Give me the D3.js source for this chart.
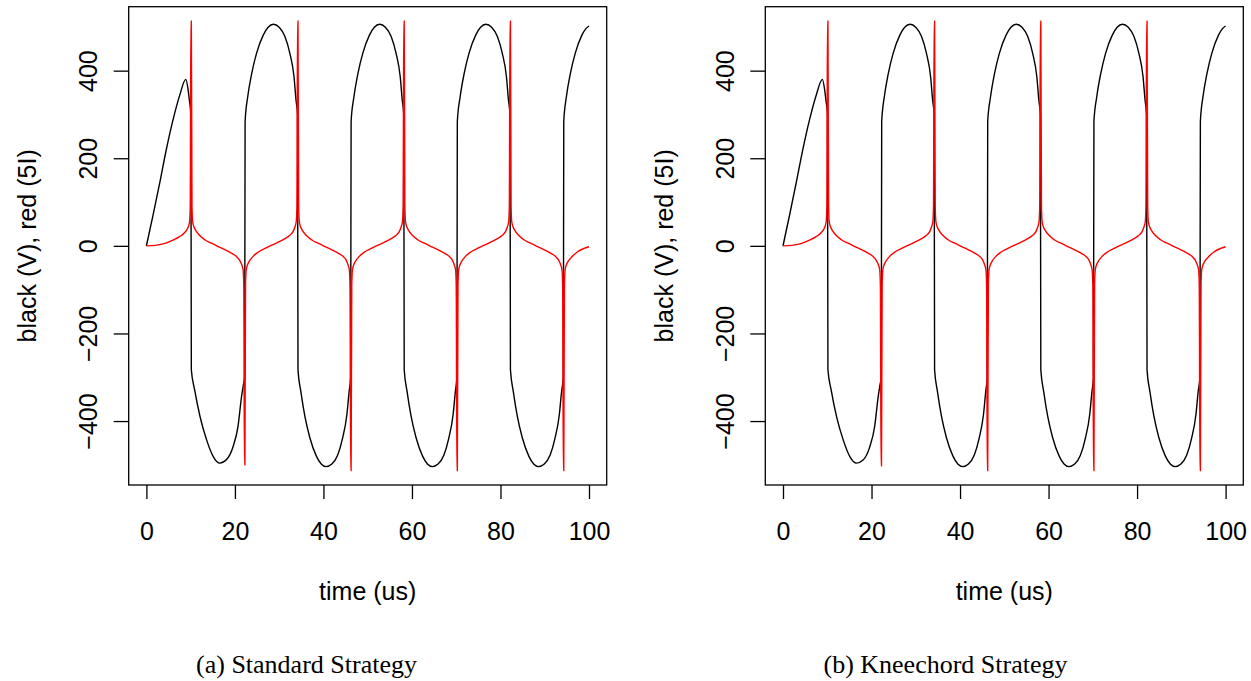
<!DOCTYPE html>
<html>
<head>
<meta charset="utf-8">
<script src="https://cdn.jsdelivr.net/npm/d3@7"></script>
<style>
  body { margin: 0; background: #fff; }
  svg { display: block; }
  .axis text, .lab { font-family: "Liberation Sans", Arial, Helvetica, sans-serif; font-size: 25px; fill: #000; }
  .cap { font-family: "Liberation Serif", "Times New Roman", serif; font-size: 26px; fill: #000; }
</style>
</head>
<body>
<svg id="chart" width="1251" height="681"></svg>
<script>
// time samples (us) for the voltage trace (black)
const timeV = [
  0, 1.5, 3, 4.5, 6, 7.5, 8.9, 9.4, 9.7, 10.05, 10.15,
  10.9, 12.1, 13.6, 15.1, 16.6, 18.1, 19.6, 20.7, 21.5, 21.9, 22.2, 22.3,
  22.9, 23.8, 24.9, 26.4, 27.5, 28.7, 30.0, 31.3, 32.4, 33.35, 33.8, 34.15, 34.25,
  34.9, 35.8, 36.9, 38.4, 39.5, 40.6, 41.9, 43.2, 44.3, 45.3, 45.8, 46.15, 46.25,
  46.9, 47.8, 48.9, 50.4, 51.5, 52.7, 54.0, 55.3, 56.4, 57.35, 57.8, 58.15, 58.25,
  58.9, 59.8, 60.9, 62.4, 63.5, 64.6, 65.9, 67.2, 68.3, 69.3, 69.8, 70.15, 70.25,
  70.9, 71.8, 72.9, 74.4, 75.5, 76.7, 78.0, 79.3, 80.4, 81.35, 81.8, 82.15, 82.25,
  82.9, 83.8, 84.9, 86.4, 87.5, 88.6, 89.9, 91.2, 92.3, 93.3, 93.8, 94.2, 94.3,
  94.9, 95.8, 96.9, 98.4, 99.3, 100
];

const voltStd = [
  0, 70, 143, 220, 287, 343, 380, 358, 333, 300, -283,
  -329, -389, -443, -481, -496, -488, -458, -412, -344, -318, -300, 284,
  341, 394, 440, 481, 499, 506, 499, 478, 440, 386, 333, 300, -283,
  -333, -389, -437, -480, -498, -504, -498, -478, -440, -385, -333, -300, 284,
  341, 394, 440, 481, 499, 506, 499, 478, 440, 386, 333, 300, -283,
  -333, -389, -437, -480, -498, -504, -498, -478, -440, -385, -333, -300, 284,
  341, 394, 440, 481, 499, 506, 499, 478, 440, 386, 333, 300, -283,
  -333, -389, -437, -480, -498, -504, -498, -478, -440, -385, -333, -300, 284,
  341, 394, 440, 481, 496, 502
];

const voltKnee = [
  0, 71, 145, 221, 288, 344, 380, 357, 332, 300, -283,
  -330, -390, -443, -481, -496, -489, -459, -413, -345, -318, -300, 284,
  341, 394, 440, 481, 499, 506, 499, 478, 440, 386, 333, 300, -283,
  -333, -389, -437, -480, -498, -504, -498, -478, -440, -385, -333, -300, 284,
  341, 394, 440, 481, 499, 506, 499, 478, 440, 386, 333, 300, -283,
  -333, -389, -437, -480, -498, -504, -498, -478, -440, -385, -333, -300, 284,
  341, 394, 440, 481, 499, 506, 499, 478, 440, 386, 333, 300, -283,
  -333, -389, -437, -480, -498, -504, -498, -478, -440, -385, -333, -300, 284,
  341, 394, 440, 481, 496, 502
];

// time samples (us) for the current trace (red, 5I)
const timeI = [
  0, 2, 4, 6, 7.5, 8.6,
  9.45, 9.75, 9.9, 10.05, 10.15, 10.3, 10.45, 10.75,
  11.1, 12.0, 13.2, 14.7, 16.1, 17.6, 19.1, 20.3, 21.0,
  21.55, 21.85, 22.0, 22.15, 22.25, 22.4, 22.55, 22.85,
  23.2, 24.1, 25.3, 26.8, 28.2, 29.7, 31.2, 32.4, 33.1,
  33.55, 33.85, 34.0, 34.15, 34.25, 34.4, 34.55, 34.85,
  35.2, 36.1, 37.3, 38.8, 40.2, 41.7, 43.2, 44.4, 45.1,
  45.55, 45.85, 46.0, 46.15, 46.25, 46.4, 46.55, 46.85,
  47.2, 48.1, 49.3, 50.8, 52.2, 53.7, 55.2, 56.4, 57.1,
  57.55, 57.85, 58.0, 58.15, 58.25, 58.4, 58.55, 58.85,
  59.2, 60.1, 61.3, 62.8, 64.2, 65.7, 67.2, 68.4, 69.1,
  69.55, 69.85, 70.0, 70.15, 70.25, 70.4, 70.55, 70.85,
  71.2, 72.1, 73.3, 74.8, 76.2, 77.7, 79.2, 80.4, 81.1,
  81.55, 81.85, 82.0, 82.15, 82.25, 82.4, 82.55, 82.85,
  83.2, 84.1, 85.3, 86.8, 88.2, 89.7, 91.2, 92.4, 93.1,
  93.6, 93.9, 94.05, 94.2, 94.3, 94.45, 94.6, 94.9,
  95.25, 96.15, 97.35, 98.85, 100
];

const curStd = [
  0, 1, 5, 13, 21, 30,
  43, 55, 90, 513, 513, 90, 55, 43,
  36, 24, 14, 6, -1, -8, -16, -24, -32,
  -43, -55, -90, -500, -500, -90, -55, -43,
  -36, -24, -14, -6, 1, 8, 16, 24, 32,
  43, 55, 90, 513, 513, 90, 55, 43,
  36, 24, 14, 6, -1, -8, -16, -24, -32,
  -43, -55, -90, -513, -513, -90, -55, -43,
  -36, -24, -14, -6, 1, 8, 16, 24, 32,
  43, 55, 90, 513, 513, 90, 55, 43,
  36, 24, 14, 6, -1, -8, -16, -24, -32,
  -43, -55, -90, -513, -513, -90, -55, -43,
  -36, -24, -14, -6, 1, 8, 16, 24, 32,
  43, 55, 90, 513, 513, 90, 55, 43,
  36, 24, 14, 6, -1, -8, -16, -24, -32,
  -43, -55, -90, -513, -513, -90, -55, -43,
  -36, -25, -14, -6, -2
];

const curKnee = [
  0, 1, 5, 13, 21, 30,
  43, 55, 90, 513, 513, 90, 55, 43,
  36, 24, 14, 6, -1, -8, -16, -24, -32,
  -43, -55, -90, -502, -502, -90, -55, -43,
  -36, -24, -14, -6, 1, 8, 16, 24, 32,
  43, 55, 90, 513, 513, 90, 55, 43,
  36, 24, 14, 6, -1, -8, -16, -24, -32,
  -43, -55, -90, -513, -513, -90, -55, -43,
  -36, -24, -14, -6, 1, 8, 16, 24, 32,
  43, 55, 90, 513, 513, 90, 55, 43,
  36, 24, 14, 6, -1, -8, -16, -24, -32,
  -43, -55, -90, -513, -513, -90, -55, -43,
  -36, -24, -14, -6, 1, 8, 16, 24, 32,
  43, 55, 90, 513, 513, 90, 55, 43,
  36, 24, 14, 6, -1, -8, -16, -24, -32,
  -43, -55, -90, -513, -513, -90, -55, -43,
  -36, -25, -14, -6, -2
];

const xTicks = [0, 20, 40, 60, 80, 100];
const yTicks = [-400, -200, 0, 200, 400];

const svg = d3.select('#chart');

function drawPanel(left, volt, cur, caption, capX) {
  const width = 478, top = 6.7, bottom = 485;
  const g = svg.append('g');

  const x = d3.scaleLinear().domain([-4, 104]).range([left, left + width]);
  const y = d3.scaleLinear().domain([-546, 546]).range([bottom, top]);

  const line = d3.line()
    .x(d => x(d[0]))
    .y(d => y(d[1]))
    .curve(d3.curveMonotoneX);

  g.append('path')
    .datum(timeV.map((t, i) => [t, volt[i]]))
    .attr('d', line)
    .attr('fill', 'none')
    .attr('stroke', '#000')
    .attr('stroke-width', 1.4);

  g.append('path')
    .datum(timeI.map((t, i) => [t, cur[i]]))
    .attr('d', line)
    .attr('fill', 'none')
    .attr('stroke', '#ff0000')
    .attr('stroke-width', 1.4);

  // box
  g.append('rect')
    .attr('x', left).attr('y', top)
    .attr('width', width).attr('height', bottom - top)
    .attr('fill', 'none').attr('stroke', '#000').attr('stroke-width', 1.3);

  const xAxis = g.append('g')
    .attr('class', 'axis')
    .attr('transform', `translate(0,${bottom})`)
    .call(d3.axisBottom(x).tickValues(xTicks).tickSize(14).tickPadding(23).tickFormat(d3.format('d')));
  xAxis.select('.domain').remove();
  xAxis.selectAll('line').attr('stroke', '#000').attr('stroke-width', 1.3);
  xAxis.selectAll('text').attr('font-size', null).attr('font-family', null);

  const yAxis = g.append('g')
    .attr('class', 'axis')
    .attr('transform', `translate(${left},0)`)
    .call(d3.axisLeft(y).tickValues(yTicks).tickSize(15));
  yAxis.select('.domain').remove();
  yAxis.selectAll('line').attr('stroke', '#000').attr('stroke-width', 1.3);
  yAxis.selectAll('text')
    .attr('font-size', null).attr('font-family', null)
    .attr('x', 0).attr('y', -31.5).attr('dy', 0)
    .attr('text-anchor', 'middle')
    .attr('transform', 'rotate(-90)');

  g.append('text')
    .attr('class', 'lab')
    .attr('x', left + width / 2)
    .attr('y', 600)
    .attr('text-anchor', 'middle')
    .text('time (us)');

  g.append('text')
    .attr('class', 'lab')
    .attr('transform', `translate(${left - 92.5},${(top + bottom) / 2}) rotate(-90)`)
    .attr('text-anchor', 'middle')
    .text('black (V), red (5I)');

  g.append('text')
    .attr('class', 'cap')
    .attr('x', capX)
    .attr('y', 673)
    .attr('text-anchor', 'middle')
    .text(caption);
}

drawPanel(128.7, voltStd, curStd, '(a) Standard Strategy', 306.5);
drawPanel(765.3, voltKnee, curKnee, '(b) Kneechord Strategy', 945.5);
</script>
</body>
</html>
